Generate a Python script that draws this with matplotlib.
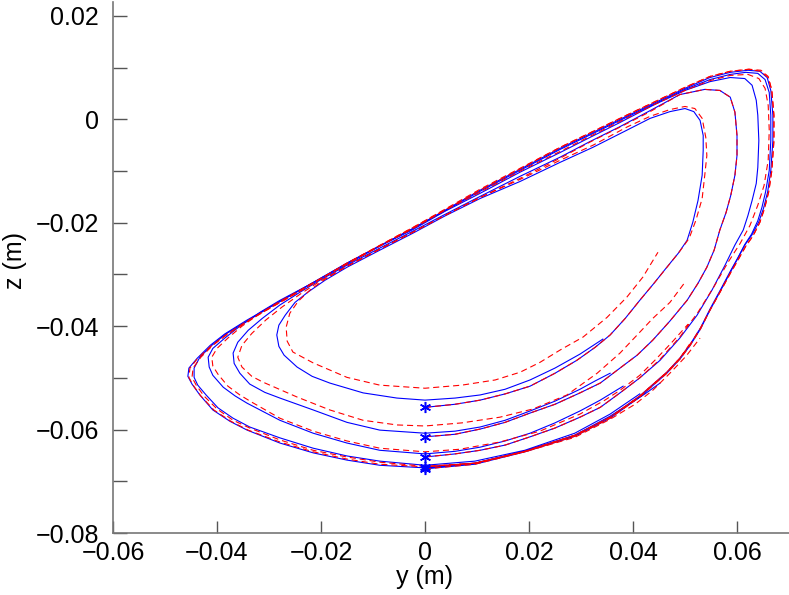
import numpy as np
import matplotlib
matplotlib.use("Agg")
from matplotlib import pyplot as plt

plt.rcParams['font.family'] = ['Liberation Sans', 'DejaVu Sans']

# starting points on the y = 0 section
star_z = [-0.0557, -0.0614, -0.0653, -0.0672, -0.0676]

# blue = measured, red = model; (y, z) in metres
blue1 = [(0, -0.0557), (0.0058, -0.0551), (0.0106, -0.0543), (0.0154, -0.0531), (0.0202, -0.0516),
         (0.0250, -0.0491), (0.0292, -0.0466), (0.0327, -0.0441), (0.0356, -0.0417), (0.0385, -0.0385),
         (0.0413, -0.0350), (0.0442, -0.0315), (0.0465, -0.0286), (0.0487, -0.0259), (0.0504, -0.0234),
         (0.0515, -0.0199), (0.0525, -0.0157), (0.0533, -0.0108), (0.0535, -0.0060), (0.0535, -0.0031),
         (0.0529, -0.0002), (0.0517, 0.0015), (0.0500, 0.0021), (0.0471, 0.0015), (0.0433, 0.0002),
         (0.0388, -0.0021), (0.0323, -0.0054), (0.0260, -0.0083), (0.0183, -0.0120), (0.0106, -0.0153),
         (0.0038, -0.0187), (-0.0023, -0.0220), (-0.0087, -0.0253), (-0.0150, -0.0286), (-0.0192, -0.0311),
         (-0.0225, -0.0334), (-0.0250, -0.0354), (-0.0269, -0.0379), (-0.0281, -0.0398), (-0.0285, -0.0417),
         (-0.0281, -0.0439), (-0.0271, -0.0456), (-0.0246, -0.0479), (-0.0217, -0.0497), (-0.0183, -0.0510),
         (-0.0119, -0.0529), (-0.0054, -0.0539), (0, -0.0543), (0.0058, -0.0539), (0.0106, -0.0533),
         (0.0154, -0.0522), (0.0202, -0.0504), (0.0250, -0.0481), (0.0298, -0.0454), (0.0342, -0.0425)]

red1 = [(0, -0.0557), (0.0058, -0.0551), (0.0106, -0.0543), (0.0154, -0.0531), (0.0202, -0.0516),
        (0.0250, -0.0491), (0.0292, -0.0466), (0.0327, -0.0441), (0.0356, -0.0417), (0.0385, -0.0385),
        (0.0413, -0.0350), (0.0442, -0.0315), (0.0467, -0.0284), (0.0490, -0.0255), (0.0508, -0.0230),
        (0.0521, -0.0195), (0.0533, -0.0153), (0.0538, -0.0108), (0.0542, -0.0070), (0.0540, -0.0035),
        (0.0533, 0.0002), (0.0519, 0.0021), (0.0500, 0.0025), (0.0471, 0.0019), (0.0433, 0.0006),
        (0.0388, -0.0015), (0.0323, -0.0050), (0.0260, -0.0079), (0.0183, -0.0116), (0.0106, -0.0151),
        (0.0038, -0.0186), (-0.0023, -0.0218), (-0.0087, -0.0251), (-0.0150, -0.0284), (-0.0192, -0.0309),
        (-0.0221, -0.0330), (-0.0244, -0.0352), (-0.0260, -0.0375), (-0.0267, -0.0402), (-0.0265, -0.0429),
        (-0.0254, -0.0450), (-0.0215, -0.0471), (-0.0150, -0.0499), (-0.0087, -0.0514), (0, -0.0520),
        (0.0071, -0.0514), (0.0135, -0.0504), (0.0183, -0.0489), (0.0221, -0.0470), (0.0260, -0.0446),
        (0.0304, -0.0421), (0.0350, -0.0383), (0.0388, -0.0344), (0.0419, -0.0305), (0.0448, -0.0257)]

blue2 = [(0, -0.0614), (0.0058, -0.0609), (0.0106, -0.0599), (0.0154, -0.0586), (0.0202, -0.0568),
         (0.0250, -0.0551), (0.0298, -0.0529), (0.0337, -0.0510), (0.0375, -0.0481), (0.0408, -0.0456),
         (0.0438, -0.0427), (0.0471, -0.0390), (0.0504, -0.0350), (0.0525, -0.0317), (0.0542, -0.0286),
         (0.0556, -0.0253), (0.0567, -0.0214), (0.0579, -0.0180), (0.0588, -0.0147), (0.0596, -0.0108),
         (0.0600, -0.0070), (0.0600, -0.0031), (0.0596, 0.0014), (0.0587, 0.0043), (0.0567, 0.0056),
         (0.0538, 0.0058), (0.0490, 0.0048), (0.0433, 0.0017), (0.0375, -0.0014), (0.0317, -0.0043),
         (0.0260, -0.0073), (0.0183, -0.0110), (0.0106, -0.0149), (0.0038, -0.0184), (-0.0023, -0.0216),
         (-0.0087, -0.0249), (-0.0150, -0.0282), (-0.0202, -0.0311), (-0.0240, -0.0334), (-0.0279, -0.0359),
         (-0.0313, -0.0385), (-0.0340, -0.0408), (-0.0360, -0.0431), (-0.0369, -0.0452), (-0.0367, -0.0472),
         (-0.0356, -0.0491), (-0.0337, -0.0512), (-0.0308, -0.0528), (-0.0279, -0.0539), (-0.0215, -0.0562),
         (-0.0150, -0.0586), (-0.0087, -0.0601), (0, -0.0607), (0.0058, -0.0603), (0.0106, -0.0595),
         (0.0154, -0.0582), (0.0202, -0.0564), (0.0250, -0.0545), (0.0298, -0.0522), (0.0327, -0.0506),
         (0.0356, -0.0491)]

red2 = [(0, -0.0614), (0.0058, -0.0609), (0.0106, -0.0599), (0.0154, -0.0586), (0.0202, -0.0568),
        (0.0250, -0.0551), (0.0298, -0.0529), (0.0337, -0.0510), (0.0375, -0.0481), (0.0408, -0.0456),
        (0.0438, -0.0427), (0.0471, -0.0390), (0.0504, -0.0350), (0.0525, -0.0317), (0.0542, -0.0286),
        (0.0556, -0.0253), (0.0567, -0.0214), (0.0579, -0.0180), (0.0588, -0.0147), (0.0596, -0.0108),
        (0.0600, -0.0070), (0.0600, -0.0031), (0.0596, 0.0014), (0.0587, 0.0043), (0.0567, 0.0056),
        (0.0538, 0.0058), (0.0490, 0.0048), (0.0433, 0.0015), (0.0375, -0.0015), (0.0317, -0.0044),
        (0.0260, -0.0075), (0.0183, -0.0114), (0.0106, -0.0151), (0.0038, -0.0186), (-0.0023, -0.0218),
        (-0.0087, -0.0251), (-0.0150, -0.0284), (-0.0202, -0.0313), (-0.0240, -0.0338), (-0.0275, -0.0363),
        (-0.0306, -0.0388), (-0.0333, -0.0414), (-0.0352, -0.0437), (-0.0360, -0.0460), (-0.0352, -0.0479),
        (-0.0333, -0.0497), (-0.0312, -0.0508), (-0.0246, -0.0537), (-0.0183, -0.0562), (-0.0119, -0.0582),
        (-0.0054, -0.0591), (0, -0.0593), (0.0071, -0.0587), (0.0144, -0.0576), (0.0208, -0.0560),
        (0.0273, -0.0533), (0.0331, -0.0491), (0.0375, -0.0452), (0.0408, -0.0417), (0.0438, -0.0385),
        (0.0471, -0.0354), (0.0500, -0.0315)]

blue3 = [(0, -0.0653), (0.0058, -0.0647), (0.0106, -0.0640), (0.0154, -0.0630), (0.0202, -0.0614),
         (0.0250, -0.0597), (0.0298, -0.0576), (0.0337, -0.0557), (0.0375, -0.0529), (0.0413, -0.0500),
         (0.0452, -0.0466), (0.0490, -0.0423), (0.0523, -0.0379), (0.0552, -0.0330), (0.0577, -0.0282),
         (0.0596, -0.0243), (0.0612, -0.0214), (0.0621, -0.0186), (0.0629, -0.0157), (0.0637, -0.0124),
         (0.0640, -0.0093), (0.0642, -0.0041), (0.0640, 0.0008), (0.0637, 0.0037), (0.0629, 0.0066),
         (0.0615, 0.0079), (0.0587, 0.0081), (0.0548, 0.0073), (0.0500, 0.0056), (0.0442, 0.0029),
         (0.0375, -0.0006), (0.0317, -0.0035), (0.0260, -0.0064), (0.0183, -0.0102), (0.0106, -0.0143),
         (0.0038, -0.0178), (-0.0023, -0.0213), (-0.0087, -0.0245), (-0.0150, -0.0280), (-0.0221, -0.0319),
         (-0.0279, -0.0350), (-0.0317, -0.0373), (-0.0356, -0.0400), (-0.0385, -0.0423), (-0.0408, -0.0443),
         (-0.0417, -0.0460), (-0.0415, -0.0479), (-0.0408, -0.0495), (-0.0388, -0.0518), (-0.0365, -0.0535),
         (-0.0342, -0.0549), (-0.0279, -0.0582), (-0.0215, -0.0607), (-0.0150, -0.0626), (-0.0087, -0.0640),
         (0, -0.0647), (0.0058, -0.0642), (0.0106, -0.0634), (0.0154, -0.0622), (0.0202, -0.0607),
         (0.0250, -0.0587), (0.0298, -0.0564), (0.0337, -0.0543), (0.0381, -0.0516)]

red3 = [(0, -0.0653), (0.0058, -0.0647), (0.0106, -0.0640), (0.0154, -0.0630), (0.0202, -0.0614),
        (0.0250, -0.0597), (0.0298, -0.0576), (0.0337, -0.0557), (0.0375, -0.0529), (0.0413, -0.0500),
        (0.0452, -0.0464), (0.0490, -0.0421), (0.0525, -0.0373), (0.0556, -0.0323), (0.0583, -0.0276),
        (0.0606, -0.0240), (0.0625, -0.0205), (0.0640, -0.0166), (0.0652, -0.0128), (0.0660, -0.0079),
        (0.0662, -0.0021), (0.0660, 0.0027), (0.0654, 0.0060), (0.0642, 0.0079), (0.0621, 0.0087),
        (0.0587, 0.0085), (0.0548, 0.0075), (0.0500, 0.0056), (0.0442, 0.0029), (0.0375, -0.0004),
        (0.0317, -0.0033), (0.0260, -0.0062), (0.0183, -0.0100), (0.0106, -0.0141), (0.0038, -0.0176),
        (-0.0023, -0.0211), (-0.0087, -0.0245), (-0.0150, -0.0280), (-0.0221, -0.0319), (-0.0279, -0.0352),
        (-0.0317, -0.0375), (-0.0352, -0.0400), (-0.0379, -0.0423), (-0.0400, -0.0443), (-0.0410, -0.0460),
        (-0.0408, -0.0477), (-0.0398, -0.0493), (-0.0379, -0.0516), (-0.0356, -0.0533), (-0.0333, -0.0547),
        (-0.0279, -0.0578), (-0.0215, -0.0603), (-0.0150, -0.0622), (-0.0087, -0.0636), (0, -0.0643),
        (0.0067, -0.0638), (0.0144, -0.0624), (0.0221, -0.0603), (0.0298, -0.0570), (0.0346, -0.0543),
        (0.0375, -0.0524), (0.0413, -0.0495), (0.0442, -0.0466), (0.0475, -0.0431), (0.0506, -0.0396)]

blue4 = [(0, -0.0672), (0.0096, -0.0665), (0.0192, -0.0642), (0.0288, -0.0611), (0.0356, -0.0576),
         (0.0413, -0.0535), (0.0465, -0.0489), (0.0490, -0.0462), (0.0510, -0.0435), (0.0530, -0.0403),
         (0.0548, -0.0367), (0.0568, -0.0330), (0.0587, -0.0294), (0.0602, -0.0267), (0.0615, -0.0242),
         (0.0628, -0.0222), (0.0640, -0.0196), (0.0648, -0.0170), (0.0655, -0.0140), (0.0662, -0.0099),
         (0.0665, -0.0041), (0.0665, 0.0008), (0.0662, 0.0052), (0.0654, 0.0077), (0.0640, 0.0089),
         (0.0617, 0.0091), (0.0587, 0.0087), (0.0548, 0.0077), (0.0500, 0.0058), (0.0452, 0.0035),
         (0.0375, -0.0002), (0.0260, -0.0058), (0.0106, -0.0139), (-0.0023, -0.0211), (-0.0150, -0.0278),
         (-0.0240, -0.0330), (-0.0298, -0.0363), (-0.0342, -0.0390), (-0.0383, -0.0415), (-0.0410, -0.0437),
         (-0.0433, -0.0460), (-0.0444, -0.0481), (-0.0444, -0.0499), (-0.0437, -0.0514), (-0.0421, -0.0533),
         (-0.0398, -0.0558), (-0.0369, -0.0578), (-0.0337, -0.0595), (-0.0279, -0.0616), (-0.0215, -0.0636),
         (-0.0150, -0.0651), (-0.0087, -0.0661), (0, -0.0669), (0.0096, -0.0661), (0.0192, -0.0640),
         (0.0288, -0.0607), (0.0356, -0.0570), (0.0413, -0.0531)]

red4 = [(0, -0.0672), (0.0096, -0.0665), (0.0192, -0.0642), (0.0288, -0.0611), (0.0356, -0.0576),
        (0.0413, -0.0535), (0.0465, -0.0489), (0.0490, -0.0462), (0.0510, -0.0435), (0.0530, -0.0403),
        (0.0548, -0.0369), (0.0568, -0.0333), (0.0587, -0.0298), (0.0603, -0.0270), (0.0617, -0.0245),
        (0.0631, -0.0225), (0.0644, -0.0199), (0.0653, -0.0172), (0.0661, -0.0140), (0.0667, -0.0099),
        (0.0671, -0.0041), (0.0671, 0.0008), (0.0667, 0.0056), (0.0660, 0.0081), (0.0646, 0.0093),
        (0.0623, 0.0097), (0.0587, 0.0093), (0.0548, 0.0083), (0.0500, 0.0062), (0.0452, 0.0039),
        (0.0375, 0.0002), (0.0260, -0.0054), (0.0106, -0.0137), (-0.0023, -0.0209), (-0.0150, -0.0278),
        (-0.0240, -0.0332), (-0.0298, -0.0365), (-0.0340, -0.0390), (-0.0379, -0.0415), (-0.0408, -0.0437),
        (-0.0431, -0.0460), (-0.0446, -0.0481), (-0.0448, -0.0499), (-0.0440, -0.0514), (-0.0425, -0.0535),
        (-0.0400, -0.0560), (-0.0369, -0.0582), (-0.0337, -0.0597), (-0.0279, -0.0620), (-0.0215, -0.0640),
        (-0.0150, -0.0653), (-0.0087, -0.0663), (0, -0.0671), (0.0096, -0.0665), (0.0192, -0.0643),
        (0.0288, -0.0615), (0.0356, -0.0580), (0.0404, -0.0551), (0.0438, -0.0524), (0.0471, -0.0491),
        (0.0502, -0.0458), (0.0529, -0.0423)]

blue5 = [(0, -0.0676), (0.0096, -0.0667), (0.0192, -0.0643), (0.0288, -0.0613), (0.0356, -0.0578),
         (0.0413, -0.0537), (0.0465, -0.0491), (0.0490, -0.0464), (0.0510, -0.0437), (0.0530, -0.0405),
         (0.0548, -0.0369), (0.0568, -0.0332), (0.0587, -0.0296), (0.0602, -0.0268), (0.0615, -0.0243),
         (0.0629, -0.0223), (0.0642, -0.0198), (0.0651, -0.0172), (0.0659, -0.0140), (0.0665, -0.0099),
         (0.0669, -0.0041), (0.0669, 0.0008), (0.0665, 0.0056), (0.0658, 0.0081), (0.0644, 0.0093),
         (0.0621, 0.0095), (0.0587, 0.0091), (0.0548, 0.0081), (0.0500, 0.0060), (0.0452, 0.0037),
         (0.0375, 0.0000), (0.0260, -0.0056), (0.0106, -0.0137), (-0.0023, -0.0211), (-0.0150, -0.0278),
         (-0.0240, -0.0330), (-0.0298, -0.0363), (-0.0342, -0.0388), (-0.0385, -0.0415), (-0.0413, -0.0437),
         (-0.0438, -0.0462), (-0.0454, -0.0481), (-0.0456, -0.0497), (-0.0448, -0.0512), (-0.0433, -0.0533),
         (-0.0408, -0.0562), (-0.0375, -0.0584), (-0.0342, -0.0601), (-0.0279, -0.0626), (-0.0215, -0.0645),
         (-0.0150, -0.0659), (-0.0087, -0.0669), (0, -0.0674), (0.0096, -0.0665), (0.0192, -0.0642),
         (0.0288, -0.0611), (0.0356, -0.0574), (0.0423, -0.0531), (0.0452, -0.0510)]

red5 = [(0, -0.0676), (0.0096, -0.0667), (0.0192, -0.0643), (0.0288, -0.0613), (0.0356, -0.0578),
        (0.0413, -0.0537), (0.0465, -0.0491), (0.0490, -0.0464), (0.0510, -0.0437), (0.0530, -0.0405),
        (0.0548, -0.0369), (0.0568, -0.0333), (0.0587, -0.0298), (0.0603, -0.0270), (0.0617, -0.0245),
        (0.0631, -0.0225), (0.0644, -0.0199), (0.0653, -0.0172), (0.0661, -0.0140), (0.0667, -0.0099),
        (0.0671, -0.0041), (0.0671, 0.0008), (0.0667, 0.0056), (0.0660, 0.0083), (0.0646, 0.0095),
        (0.0623, 0.0097), (0.0587, 0.0093), (0.0548, 0.0083), (0.0500, 0.0062), (0.0452, 0.0039),
        (0.0375, 0.0002), (0.0260, -0.0054), (0.0106, -0.0135), (-0.0023, -0.0209), (-0.0150, -0.0278),
        (-0.0240, -0.0332), (-0.0298, -0.0365), (-0.0342, -0.0390), (-0.0383, -0.0417), (-0.0412, -0.0439),
        (-0.0437, -0.0462), (-0.0452, -0.0481), (-0.0454, -0.0499), (-0.0446, -0.0514), (-0.0431, -0.0535),
        (-0.0406, -0.0562), (-0.0373, -0.0584), (-0.0340, -0.0601), (-0.0279, -0.0624), (-0.0215, -0.0643),
        (-0.0150, -0.0657), (-0.0087, -0.0667), (0, -0.0672), (0.0096, -0.0665), (0.0192, -0.0642),
        (0.0288, -0.0611), (0.0356, -0.0576), (0.0413, -0.0535), (0.0465, -0.0489), (0.0490, -0.0462),
        (0.0510, -0.0433)]

blue_runs = [blue1, blue2, blue3, blue4, blue5]
red_runs = [red1, red2, red3, red4, red5]

xticks = [-0.06, -0.04, -0.02, 0, 0.02, 0.04, 0.06]
xlabels = ['\u22120.06', '\u22120.04', '\u22120.02', '0', '0.02', '0.04', '0.06']
yticks = [-0.08, -0.07, -0.06, -0.05, -0.04, -0.03, -0.02, -0.01, 0, 0.01, 0.02]
ylabels = ['\u22120.08', '', '\u22120.06', '', '\u22120.04', '', '\u22120.02', '', '0', '', '0.02']

fig = plt.figure(figsize=(7.89, 5.95), dpi=100)
ax = fig.add_axes([0.1432, 0.1042, 0.8568, 0.8924])

for run in blue_runs:
    p = np.array(run)
    ax.plot(p[:, 0], p[:, 1], color='#0000ff', lw=0.8)
for run in red_runs:
    p = np.array(run)
    ax.plot(p[:, 0], p[:, 1], color='#ff0000', lw=0.8, linestyle=(0, (5.5, 3.5)))
ax.plot(np.zeros(len(star_z)), star_z, linestyle='none', marker=(6, 2, 0),
        markersize=8, markeredgewidth=1.1, color='#0000ff')

ax.set_xlim(-0.06, 0.07)
ax.set_ylim(-0.08, 0.0227)
ax.set_xticks(xticks)
ax.set_xticklabels(xlabels)
ax.set_yticks(yticks)
ax.set_yticklabels(ylabels)
ax.tick_params(direction='in', width=1, color='#555555', labelsize=18)
ax.tick_params(axis='x', pad=6, length=8.6)
ax.tick_params(axis='y', pad=10, length=10)

for s in ['top', 'right']:
    ax.spines[s].set_visible(False)
for s in ['left', 'bottom']:
    ax.spines[s].set_color('#777777')
    ax.spines[s].set_linewidth(1.2)

ax.set_xlabel('y (m)', fontsize=18, va='center')
ax.xaxis.set_label_coords(0.4615, -0.083)
ax.set_ylabel('z (m)', fontsize=18, va='center')
ax.yaxis.set_label_coords(-0.145, 0.514)

plt.savefig('out.png', dpi=100)
